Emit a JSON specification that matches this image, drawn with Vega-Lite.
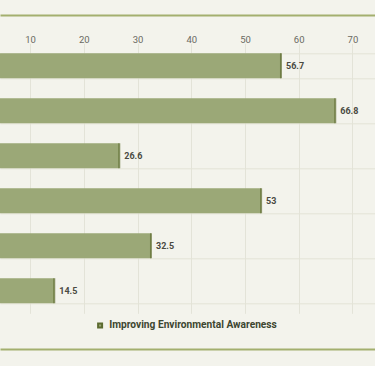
{
  "$schema": "https://vega.github.io/schema/vega-lite/v6.json",
  "width": 375,
  "height": 270,
  "autosize": {"type": "none"},
  "padding": {"top": 43.3, "left": 0, "right": 0, "bottom": 52.7},
  "background": "#f3f3ec",
  "config": {"view": {"stroke": null}, "font": "Roboto"},
  "data": {
    "values": [
      {"category": "Category 1", "value": 56.7, "series": "Improving Environmental Awareness"},
      {"category": "Category 2", "value": 66.8, "series": "Improving Environmental Awareness"},
      {"category": "Category 3", "value": 26.6, "series": "Improving Environmental Awareness"},
      {"category": "Category 4", "value": 53, "series": "Improving Environmental Awareness"},
      {"category": "Category 5", "value": 32.5, "series": "Improving Environmental Awareness"},
      {"category": "Category 6", "value": 14.5, "series": "Improving Environmental Awareness"}
    ]
  },
  "encoding": {
    "y": {
      "field": "category",
      "type": "nominal",
      "sort": null,
      "scale": {"paddingInner": 0.444, "paddingOuter": 0.222},
      "axis": {
        "title": null,
        "labels": false,
        "ticks": false,
        "domain": false,
        "grid": true,
        "tickBand": "extent",
        "gridColor": "#e3e3d8",
        "gridWidth": 1
      }
    }
  },
  "layer": [
    {
      "mark": {"type": "bar", "clip": true},
      "encoding": {
        "x": {
          "field": "value",
          "type": "quantitative",
          "scale": {"domain": [4.4, 74.2], "nice": false, "zero": false},
          "axis": {
            "orient": "top",
            "title": null,
            "offset": 28.3,
            "values": [10, 20, 30, 40, 50, 60, 70],
            "domain": true,
            "domainColor": "#a3af6e",
            "domainWidth": 2,
            "ticks": false,
            "tickSize": 0,
            "labelPadding": -29,
            "labelFontSize": 9.5,
            "labelColor": "#6a6a62",
            "labelFlush": false,
            "grid": true,
            "gridColor": "#e3e3d8",
            "gridWidth": 1
          }
        },
        "color": {
          "field": "series",
          "type": "nominal",
          "scale": {"range": ["#9ba877"]},
          "legend": {
            "title": null,
            "orient": "none",
            "legendX": 95,
            "legendY": 277,
            "direction": "horizontal",
            "symbolType": "square",
            "symbolSize": 16,
            "symbolStrokeColor": "#5c6b30",
            "symbolStrokeWidth": 2,
            "labelFontSize": 10.2,
            "labelFontWeight": "bold",
            "labelColor": "#3d4630",
            "labelLimit": 400
          }
        }
      }
    },
    {
      "mark": {"type": "tick", "color": "#5c6b2e", "thickness": 2, "size": 25, "clip": true},
      "encoding": {
        "x": {
          "field": "value",
          "type": "quantitative",
          "axis": {
            "orient": "bottom",
            "title": null,
            "offset": 35.7,
            "labels": false,
            "ticks": false,
            "grid": false,
            "domain": true,
            "domainColor": "#a3af6e",
            "domainWidth": 2
          }
        }
      }
    },
    {
      "mark": {"type": "text", "align": "left", "baseline": "middle", "dx": 5, "fontSize": 9, "fontWeight": "bold", "color": "#4a4a42"},
      "encoding": {
        "x": {"field": "value", "type": "quantitative", "axis": null},
        "text": {"field": "value", "type": "quantitative"}
      }
    }
  ],
  "resolve": {"axis": {"x": "independent"}}
}
